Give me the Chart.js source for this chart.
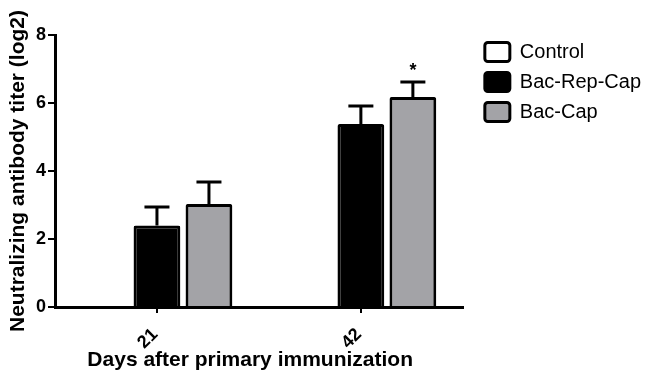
<!DOCTYPE html>
<html>
<head>
<meta charset="utf-8">
<script src="https://cdn.jsdelivr.net/npm/chart.js@4.4.0/dist/chart.umd.min.js"></script>
<style>
  body { margin: 0; background: #fff; }
</style>
</head>
<body>
<canvas id="miGrafico" width="651" height="374"></canvas>
<script>
// Datos
const dias = ['21', '42'];
const control = [null, null];
const bacRepCap = [2.4, 5.38];
const bacCap = [3.03, 6.18];
const errBacRepCap = [0.54, 0.53];
const errBacCap = [0.65, 0.44];
const marcasBacCap = ['', '*'];
const ticksY = [0, 2, 4, 6, 8];

const fuente = "'Liberation Sans', Arial, sans-serif";

// Barras de error (solo hacia arriba) y asterisco de significancia
const pluginError = {
    id: 'barrasError',
    afterDatasetsDraw: (chart) => {
        const { ctx, scales: { y } } = chart;
        ctx.save();
        ctx.strokeStyle = '#000';
        ctx.fillStyle = '#000';
        ctx.lineWidth = 3;
        chart.data.datasets.forEach((dataset, i) => {
            if (!dataset.errores) return;
            const meta = chart.getDatasetMeta(i);
            meta.data.forEach((barra, j) => {
                const valor = dataset.data[j];
                if (valor == null) return;
                const yTop = y.getPixelForValue(valor + dataset.errores[j]);
                ctx.beginPath();
                ctx.moveTo(barra.x, barra.y);
                ctx.lineTo(barra.x, yTop);
                ctx.moveTo(barra.x - 12.5, yTop);
                ctx.lineTo(barra.x + 12.5, yTop);
                ctx.stroke();
                if (dataset.marcas && dataset.marcas[j]) {
                    ctx.font = 'bold 18px ' + fuente;
                    ctx.textAlign = 'center';
                    ctx.textBaseline = 'alphabetic';
                    ctx.fillText(dataset.marcas[j], barra.x, yTop - 6);
                }
            });
        });
        ctx.restore();
    }
};

const ctx = document.getElementById('miGrafico').getContext('2d');
Chart.defaults.color = '#000';
Chart.defaults.font.family = fuente;

new Chart(ctx, {
    type: 'bar',
    data: {
        labels: dias,
        datasets: [
            {
                label: 'Control',
                data: control,
                backgroundColor: '#fff',
                borderColor: '#000',
                borderWidth: 3
            },
            {
                label: 'Bac-Rep-Cap',
                data: bacRepCap,
                errores: errBacRepCap,
                backgroundColor: '#000',
                borderColor: '#000',
                borderWidth: 3,
                borderRadius: 2,
                borderSkipped: 'bottom'
            },
            {
                label: 'Bac-Cap',
                data: bacCap,
                errores: errBacCap,
                marcas: marcasBacCap,
                backgroundColor: '#a3a3a7',
                borderColor: '#000',
                borderWidth: 3,
                borderRadius: 2,
                borderSkipped: 'bottom'
            }
        ]
    },
    plugins: [pluginError],
    options: {
        responsive: false,
        animation: false,
        layout: { padding: { top: 32, right: 0, bottom: 0, left: 0 } },
        datasets: {
            bar: { categoryPercentage: 0.765, barPercentage: 0.9 }
        },
        plugins: {
            legend: {
                position: 'right',
                align: 'start',
                maxWidth: 300,
                labels: {
                    color: '#000',
                    font: { size: 20, family: fuente },
                    boxWidth: 25,
                    boxHeight: 19,
                    padding: 10,
                    useBorderRadius: true,
                    borderRadius: 3
                }
            },
            tooltip: { enabled: false }
        },
        scales: {
            x: {
                grid: { drawOnChartArea: false, color: '#000', lineWidth: 2, tickLength: 6, offset: false },
                border: { color: '#000', width: 3 },
                ticks: {
                    font: { size: 18, weight: 'bold' },
                    minRotation: 45,
                    maxRotation: 45,
                    padding: 11,
                    labelOffset: -2
                },
                title: {
                    display: true,
                    text: 'Days after primary immunization\u00a0\u00a0\u00a0',
                    font: { size: 21, weight: 'bold' },
                    padding: { top: 0, bottom: 1 }
                },
                afterFit: (escala) => { escala.height = 67; }
            },
            y: {
                min: 0,
                max: 8,
                afterBuildTicks: (escala) => { escala.ticks = ticksY.map(v => ({ value: v })); },
                grid: { drawOnChartArea: false, color: '#000', lineWidth: 2, tickLength: 7 },
                border: { color: '#000', width: 3 },
                ticks: {
                    font: { size: 18, weight: 'bold' },
                    padding: 2
                },
                title: {
                    display: true,
                    text: 'Neutralizing antibody titer (log2)',
                    font: { size: 21, weight: 'bold' },
                    padding: { top: 6, bottom: 0 }
                },
                afterFit: (escala) => { escala.width = 55; }
            },
            espacioArriba: {
                type: 'linear',
                position: 'top',
                grid: { display: false },
                border: { display: false },
                ticks: { display: false },
                afterFit: (escala) => { escala.height = 3; }
            },
            espacioDerecha: {
                type: 'linear',
                position: 'right',
                grid: { display: false },
                border: { display: false },
                ticks: { display: false },
                afterFit: (escala) => { escala.width = 12; }
            }
        }
    }
});
</script>
</body>
</html>
